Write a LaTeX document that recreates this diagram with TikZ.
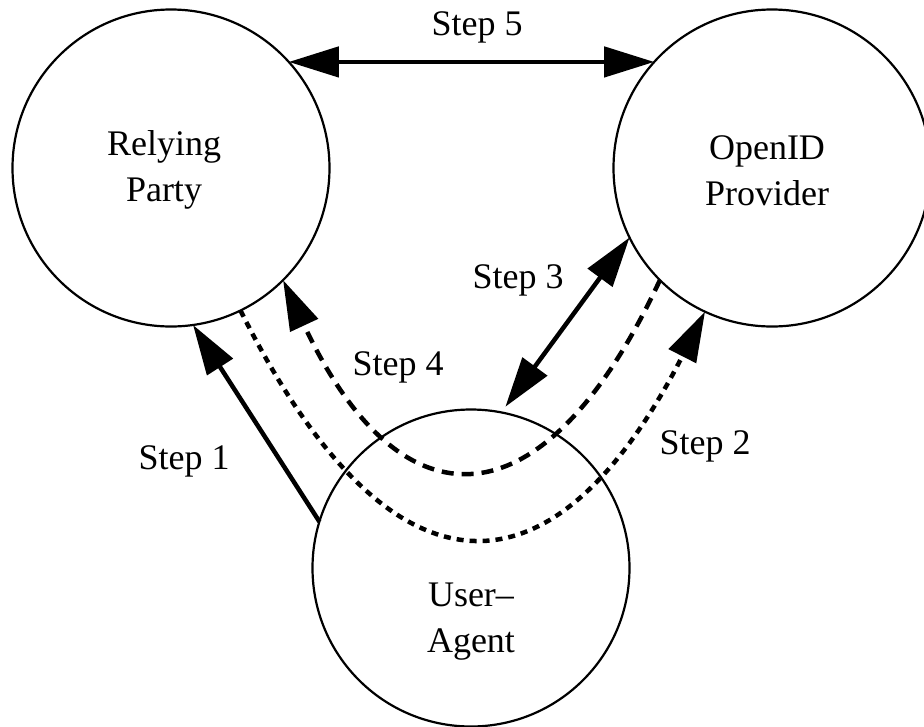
\documentclass[tikz,border=0pt]{standalone}
\usepackage{fontspec}
\setmainfont{Liberation Serif}
\usetikzlibrary{arrows.meta}

\begin{document}
\begin{tikzpicture}[
  x=1pt, y=-1pt,
  >={Triangle[length=50pt,width=30pt]},
  party/.style={draw, circle, minimum size=317pt, inner sep=0pt, outer sep=0pt, line width=2.2pt},
  partylabel/.style={font=\fontsize{36}{46}\selectfont, align=center, inner sep=0pt},
  steplabel/.style={font=\fontsize{36}{46}\selectfont, inner sep=0pt, anchor=base},
  flow/.style={line width=4.5pt},
  longdash/.style={flow, dash pattern=on 12pt off 8pt},
  shortdash/.style={flow, dash pattern=on 7pt off 6pt}
]
  % canvas
  \useasboundingbox (0,0) rectangle (924,726);
  \fill[white] (0,0) rectangle (924,726);
  \clip (0,0) rectangle (924,726);

  % the three parties
  \node[party] (rp) at (171,168) {};
  \node[party] (op) at (772,168) {};
  \node[party] (ua) at (471,568) {};

  \node[partylabel] (rptext) at (164,170) {Relying\\Party};
  \node[partylabel] (optext) at (767,171) {OpenID\\Provider};
  \node[partylabel] (uatext) at (471,622) {User–\\Agent};

  % Step 5: direct exchange between RP and OP
  \draw[flow, <->] (rp.42) -- (op.138);
  \node[steplabel] (s5) at (477,35) {Step 5};

  % Step 1: user agent contacts the relying party
  \draw[flow, ->] (ua.163) -- (rp.-82);
  \node[steplabel] (s1) at (184,469) {Step 1};

  % Step 2: redirect from RP through the user agent to the OP
  \draw[shortdash, ->] (rp.-64.5) .. controls (390,610) and (553,610) .. (op.-115.5);
  \node[steplabel] (s2) at (705,454) {Step 2};

  % Step 3: user agent and OP interact
  \draw[flow, <->, shorten >=7pt] (op.206) -- (ua.79);
  \node[steplabel] (s3) at (518,288) {Step 3};

  % Step 4: redirect from OP back through the user agent to the RP
  \draw[longdash, ->] (op.-135) .. controls (543,531) and (400,531) .. (rp.-45);
  \node[steplabel] (s4) at (398,375) {Step 4};
\end{tikzpicture}
\end{document}
